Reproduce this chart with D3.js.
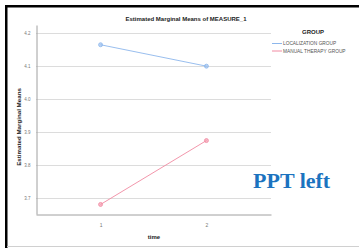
<!DOCTYPE html>
<html>
<head>
<meta charset="utf-8">
<script src="https://cdn.jsdelivr.net/npm/d3@7"></script>
<style>
  body { margin: 0; background: #fff; }
  svg { display: block; font-family: "Liberation Sans", Arial, sans-serif; }
</style>
</head>
<body>
<div id="chart"></div>
<script>
// Estimated marginal means
const times = [1, 2];
const groups = ["LOCALIZATION GROUP", "MANUAL THERAPY GROUP"];
const localization = [4.165, 4.100];
const manualTherapy = [3.680, 3.874];
const yTicks = [3.7, 3.8, 3.9, 4.0, 4.1, 4.2];
const colors = ["#8db7ec", "#f18aa2"];

const width = 359, height = 248;
const svg = d3.select("#chart").append("svg")
    .attr("width", width)
    .attr("height", height);

// frame: thick black top/left, thin grey bottom
svg.append("rect").attr("x", 5).attr("y", 5).attr("width", width - 5).attr("height", 2.5).attr("fill", "#000");
svg.append("rect").attr("x", 5).attr("y", 5).attr("width", 2.5).attr("height", height - 5).attr("fill", "#000");
svg.append("line").attr("x1", 7).attr("x2", width).attr("y1", 246.5).attr("y2", 246.5)
    .attr("stroke", "#d0d0d0").attr("stroke-width", 1);

const plot = { left: 36, right: 271, top: 25, bottom: 214 };

const x = d3.scalePoint()
    .domain(times)
    .range([plot.left, plot.right])
    .padding(0.61);

const y = d3.scaleLinear()
    .domain([3.651, 4.225])
    .range([plot.bottom, plot.top]);

// gridlines
svg.append("g")
    .selectAll("line")
    .data(yTicks)
    .enter()
    .append("line")
    .attr("x1", plot.left)
    .attr("x2", plot.right)
    .attr("y1", d => Math.round(y(d)) + 0.5)
    .attr("y2", d => Math.round(y(d)) + 0.5)
    .attr("stroke", "#dcdcdc")
    .attr("stroke-width", 1);

// y axis
const yAxis = d3.axisLeft(y).tickValues(yTicks).tickSize(0).tickPadding(6).tickFormat(d3.format(".1f"));
const gy = svg.append("g").attr("transform", `translate(${plot.left + 0.5},0)`).call(yAxis);
gy.select(".domain").attr("stroke", "#a0a0a0");
gy.selectAll("text").attr("font-size", "4.5px").attr("fill", "#777");

// x axis
const xAxis = d3.axisBottom(x).tickSize(0).tickPadding(9);
const gx = svg.append("g").attr("transform", `translate(0,${plot.bottom + 0.5})`).call(xAxis);
gx.select(".domain").attr("stroke", "#a0a0a0");
gx.selectAll("text").attr("font-size", "5px").attr("fill", "#777");

// lines and markers
const series = [localization, manualTherapy];
const line = d3.line().x((d, i) => x(times[i])).y(d => y(d));
series.forEach((vals, k) => {
    svg.append("path")
        .datum(vals)
        .attr("d", line)
        .attr("fill", "none")
        .attr("stroke", colors[k])
        .attr("stroke-width", 0.9);
    svg.append("g")
        .selectAll("circle")
        .data(vals)
        .enter()
        .append("circle")
        .attr("cx", (d, i) => x(times[i]))
        .attr("cy", d => y(d))
        .attr("r", 2)
        .attr("fill", colors[k])
        .attr("fill-opacity", 0.6)
        .attr("stroke", colors[k])
        .attr("stroke-width", 0.8);
});

// titles
svg.append("text")
    .attr("x", 186).attr("y", 21)
    .attr("text-anchor", "middle")
    .attr("font-size", "6px")
    .attr("font-weight", "bold")
    .attr("fill", "#222")
    .text("Estimated Marginal Means of MEASURE_1");

svg.append("text")
    .attr("transform", "translate(21,127) rotate(-90)")
    .attr("text-anchor", "middle")
    .attr("font-size", "6.2px")
    .attr("font-weight", "bold")
    .attr("fill", "#222")
    .text("Estimated Marginal Means");

svg.append("text")
    .attr("x", 154).attr("y", 239)
    .attr("text-anchor", "middle")
    .attr("font-size", "6px")
    .attr("font-weight", "bold")
    .attr("fill", "#222")
    .text("time");

// legend
svg.append("text")
    .attr("x", 313).attr("y", 34)
    .attr("text-anchor", "middle")
    .attr("font-size", "6px")
    .attr("font-weight", "bold")
    .attr("fill", "#222")
    .text("GROUP");

const legend = svg.append("g")
    .selectAll("g")
    .data(groups)
    .enter()
    .append("g")
    .attr("transform", (d, i) => `translate(272,${43.5 + i * 7.5})`);
legend.append("line")
    .attr("x1", 0).attr("x2", 10)
    .attr("stroke", (d, i) => colors[i])
    .attr("stroke-width", 1);
legend.append("text")
    .attr("x", 11).attr("y", 1.7)
    .attr("font-size", "4.8px")
    .attr("fill", "#555")
    .text(d => d);

// overlay annotation
svg.append("text")
    .attr("x", 253).attr("y", 188)
    .attr("font-family", "'Liberation Serif', 'DejaVu Serif', serif")
    .attr("font-size", "22px")
    .attr("font-weight", "bold")
    .attr("fill", "#1b73bf")
    .text("PPT left");
</script>
</body>
</html>
